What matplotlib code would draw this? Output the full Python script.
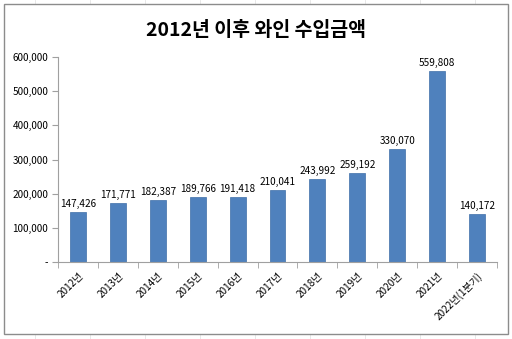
import matplotlib
matplotlib.use("Agg")
import matplotlib.pyplot as plt
from matplotlib.patches import Rectangle
from matplotlib.ticker import FuncFormatter

plt.rcParams['font.family'] = ['Noto Sans CJK KR', 'DejaVu Sans']

years = ['2012년', '2013년', '2014년', '2015년', '2016년', '2017년', '2018년',
         '2019년', '2020년', '2021년', '2022년(1분기)']
amounts = [147426, 171771, 182387, 189766, 191418, 210041, 243992,
           259192, 330070, 559808, 140172]

W, H = 512, 339
fig = plt.figure(figsize=(W / 100, H / 100), dpi=100)
fig.patch.set_facecolor('white')

# faint spreadsheet grid behind the chart frame
for gx in [35, 90, 145, 200, 255, 310, 365, 420, 475]:
    fig.add_artist(plt.Line2D([gx / W, gx / W], [0, 1], color='#e4e4e4', lw=0.6, zorder=-3))
fig.add_artist(Rectangle((4 / W, 5 / H), 504 / W, 330 / H, transform=fig.transFigure,
                         facecolor='white', edgecolor='#8c8c8c', lw=1.0, zorder=-2))

ax = fig.add_axes([58 / W, 1 - 262 / H, 439 / W, 205 / H])
ax.set_facecolor('none')
x = range(len(years))
ax.bar(x, amounts, width=0.4, color='#4f81bd', edgecolor='#3f6fa8', linewidth=0.5)
for xi, v in zip(x, amounts):
    ax.text(xi, v + 9000, f'{v:,}', ha='center', va='bottom', fontsize=7.2)

ax.set_xlim(-0.5, len(years) - 0.5)
ax.set_ylim(0, 600000)
ax.set_yticks(range(0, 600001, 100000))
ax.yaxis.set_major_formatter(FuncFormatter(lambda v, p: '-' if v == 0 else f'{int(v):,}'))
ax.set_xticks(list(x))
ax.set_xticklabels(years, rotation=45, ha='right', rotation_mode='anchor', fontsize=7.2)
ax.set_xticks([i - 0.5 for i in range(len(years) + 1)], minor=True)
ax.tick_params(axis='x', which='major', length=0, pad=6)
ax.tick_params(axis='x', which='minor', length=4, color='#a0a0a0', direction='out')
ax.tick_params(axis='y', length=4, color='#a0a0a0', labelsize=7.2, pad=3)
for s in ['top', 'right']:
    ax.spines[s].set_visible(False)
for s in ['left', 'bottom']:
    ax.spines[s].set_color('#a0a0a0')
    ax.spines[s].set_linewidth(0.8)

fig.text(0.5, 1 - 30 / H, '2012년 이후 와인 수입금액', ha='center', va='center',
         fontsize=14, fontweight='bold')

fig.savefig('out.png', dpi=100)
